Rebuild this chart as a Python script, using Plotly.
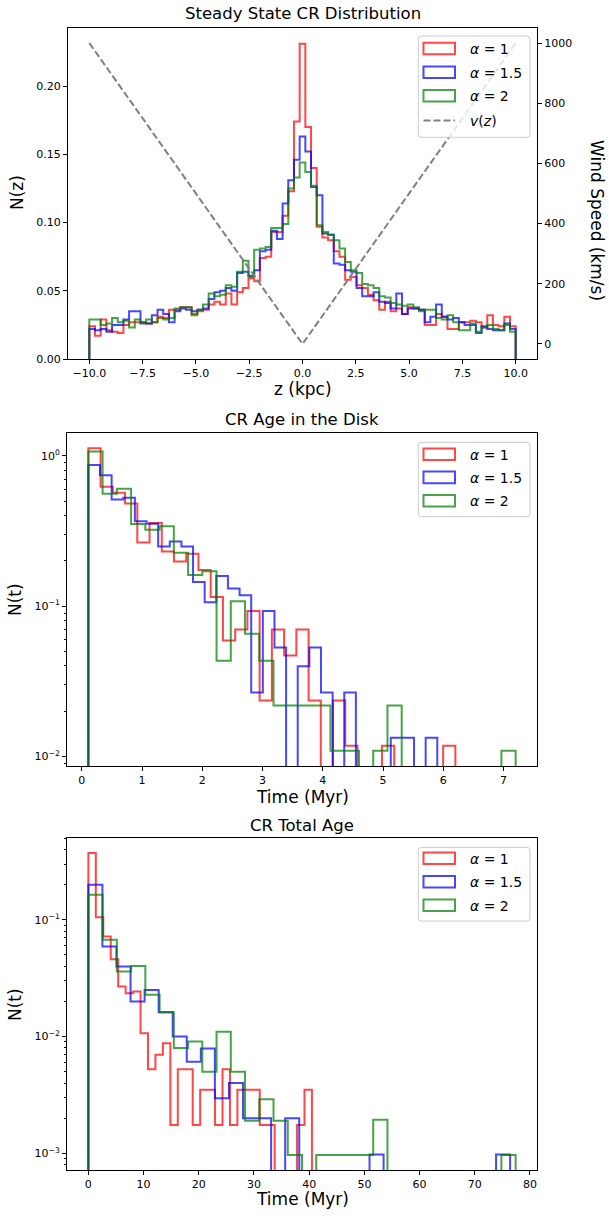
import numpy as np
import plotly.graph_objects as go

W, H = 609, 1218

# ---------------- DATA ----------------
alpha_labels = ["1", "1.5", "2"]

# Panel 1: steady state CR distribution N(z), 75 bins over [-10, 10]
z_lo, z_hi = -10.0, 10.0
nz_red = [
    0.024, 0.017, 0.029, 0.021, 0.020, 0.019, 0.025, 0.027, 0.027, 0.027,
    0.026, 0.027, 0.031, 0.030, 0.036, 0.036, 0.038, 0.038, 0.033, 0.035,
    0.036, 0.040, 0.042, 0.040, 0.048, 0.040, 0.049, 0.052, 0.059, 0.057,
    0.074, 0.075, 0.093, 0.093, 0.105, 0.123, 0.174, 0.231, 0.170, 0.140,
    0.097, 0.089, 0.087, 0.079, 0.075, 0.058, 0.060, 0.054, 0.052, 0.047,
    0.043, 0.036, 0.042, 0.035, 0.037, 0.033, 0.038, 0.037, 0.036, 0.025,
    0.025, 0.033, 0.031, 0.022, 0.022, 0.027, 0.027, 0.028, 0.027, 0.023,
    0.032, 0.025, 0.024, 0.031, 0.024]
nz_blue = [
    0.022, 0.021, 0.022, 0.020, 0.025, 0.025, 0.029, 0.035, 0.035, 0.026,
    0.026, 0.032, 0.036, 0.033, 0.027, 0.035, 0.037, 0.036, 0.035, 0.036,
    0.037, 0.044, 0.049, 0.050, 0.052, 0.050, 0.063, 0.064, 0.061, 0.065,
    0.079, 0.080, 0.094, 0.088, 0.114, 0.131, 0.146, 0.163, 0.152, 0.126,
    0.120, 0.092, 0.091, 0.070, 0.069, 0.065, 0.064, 0.052, 0.046, 0.046,
    0.049, 0.042, 0.041, 0.037, 0.048, 0.033, 0.037, 0.037, 0.036, 0.027,
    0.031, 0.040, 0.031, 0.029, 0.030, 0.027, 0.025, 0.025, 0.019, 0.024,
    0.022, 0.021, 0.021, 0.026, 0.022]
nz_green = [
    0.029, 0.029, 0.025, 0.026, 0.030, 0.027, 0.028, 0.023, 0.029, 0.027,
    0.029, 0.027, 0.030, 0.029, 0.030, 0.037, 0.038, 0.038, 0.032, 0.036,
    0.040, 0.048, 0.046, 0.047, 0.054, 0.053, 0.064, 0.072, 0.060, 0.080,
    0.081, 0.082, 0.096, 0.096, 0.099, 0.125, 0.133, 0.144, 0.137, 0.127,
    0.098, 0.093, 0.091, 0.087, 0.081, 0.071, 0.065, 0.063, 0.055, 0.054,
    0.052, 0.046, 0.045, 0.041, 0.040, 0.039, 0.040, 0.038, 0.035, 0.036,
    0.036, 0.030, 0.029, 0.032, 0.027, 0.021, 0.021, 0.026, 0.020, 0.023,
    0.025, 0.022, 0.021, 0.025, 0.020]

wind_z = [-10.0, 0.0, 10.0]
wind_v = [1000.0, 0.0, 1000.0]

# Panel 2: CR age in the disk, 30 bins per series over its own range
disk_start = 0.11
disk_end = {"red": 6.20, "blue": 5.90, "green": 7.20}
disk_red = [1.125, 0.623, 0.568, 0.482, 0.265, 0.357, 0.231, 0.198, 0.223, 0.174,
            0.115, 0.059, 0.070, 0.093, 0.0236, 0.070, 0.047, 0.070, 0.0236, 0,
            0.0236, 0.0118, 0, 0, 0.0118, 0, 0, 0, 0, 0.0118]
disk_blue = [0.870, 0.742, 0.512, 0.526, 0.367, 0.354, 0.249, 0.269, 0.249, 0.145,
             0.106, 0.159, 0.131, 0.118, 0.0266, 0.093, 0.053, 0, 0.0399, 0.053,
             0.0266, 0, 0.0266, 0, 0, 0, 0.0133, 0.0133, 0, 0.0133]
disk_green = [1.069, 0.560, 0.604, 0.352, 0.322, 0.340, 0.227, 0.161, 0.171, 0.0434,
              0.108, 0.0655, 0.0434, 0.0218, 0.0218, 0.0218, 0.0218, 0.0109, 0.0109, 0,
              0.0109, 0.0218, 0, 0, 0, 0, 0, 0, 0, 0.0109]

# Panel 3: CR total age, 30 bins per series over its own range
total_start = 0.0
total_end = {"red": 40.5, "blue": 76.4, "green": 77.4}
total_red = [0.373, 0.105, 0.072, 0.046, 0.0268, 0.0235, 0.0243, 0.0107, 0.00526, 0.0070,
             0.00877, 0.00175, 0.00526, 0.00526, 0.00175, 0.0035, 0.0035, 0.00175, 0.00526, 0.00175,
             0.0035, 0.0035, 0.0035, 0.00175, 0.00175, 0, 0, 0, 0.00175, 0.0035]
total_blue = [0.1995, 0.059, 0.0398, 0.0200, 0.0251, 0.0162, 0.0100, 0.0061, 0.0079, 0.00296,
              0.0040, 0.0020, 0.0020, 0, 0.0020, 0, 0, 0, 0, 0,
              0.00098, 0, 0, 0, 0, 0, 0, 0, 0, 0.00098]
total_green = [0.164, 0.0674, 0.0361, 0.0403, 0.0228, 0.0162, 0.0080, 0.0091, 0.0050, 0.0110,
               0.0050, 0.0019, 0.0029, 0.0019, 0.00097, 0, 0.00097, 0.00097, 0.00097, 0.00097,
               0.00194, 0, 0, 0, 0, 0, 0, 0, 0, 0.00097]

# ---------------- STYLE ----------------
COL = {"red": "rgba(255,0,0,0.72)", "blue": "rgba(0,0,255,0.72)", "green": "rgba(0,128,0,0.72)"}
FONT = "DejaVu Sans"
LW = 2


def px(x):
    return x / W


def py(y):
    return 1 - y / H


def step_xy(lo, hi, heights, base):
    edges = np.linspace(lo, hi, len(heights) + 1)
    xs, ys = [edges[0]], [base]
    for i, h in enumerate(heights):
        hv = h if h > 0 else base
        xs += [edges[i], edges[i + 1]]
        ys += [hv, hv]
    xs.append(edges[-1])
    ys.append(base)
    return xs, ys


fig = go.Figure()

# Panel 1 traces
for key, vals in [("red", nz_red), ("blue", nz_blue), ("green", nz_green)]:
    xs, ys = step_xy(z_lo, z_hi, vals, 0.0)
    fig.add_trace(go.Scatter(x=xs, y=ys, mode="lines", line=dict(color=COL[key], width=LW),
                             xaxis="x", yaxis="y", hoverinfo="skip"))
fig.add_trace(go.Scatter(x=wind_z, y=wind_v, mode="lines",
                         line=dict(color="rgb(128,128,128)", width=2, dash="7px,3px"),
                         xaxis="x", yaxis="y2", hoverinfo="skip"))

# Panel 2 traces
LOGBASE = 1e-9
for key, vals in [("red", disk_red), ("blue", disk_blue), ("green", disk_green)]:
    xs, ys = step_xy(disk_start, disk_end[key], vals, LOGBASE)
    fig.add_trace(go.Scatter(x=xs, y=ys, mode="lines", line=dict(color=COL[key], width=LW),
                             xaxis="x2", yaxis="y3", hoverinfo="skip"))

# Panel 3 traces
for key, vals in [("red", total_red), ("blue", total_blue), ("green", total_green)]:
    xs, ys = step_xy(total_start, total_end[key], vals, LOGBASE)
    fig.add_trace(go.Scatter(x=xs, y=ys, mode="lines", line=dict(color=COL[key], width=LW),
                             xaxis="x3", yaxis="y4", hoverinfo="skip"))

# ranges (matplotlib-like 5% margins)
top_ymax = 1.05 * max(max(nz_red), max(nz_blue), max(nz_green))


def lin_range(lo, hi):
    s = hi - lo
    return [lo - 0.05 * s, hi + 0.05 * s]


def log_range(arrs):
    pos = [v for a in arrs for v in a if v > 0]
    a, b = np.log10(min(pos)), np.log10(max(pos))
    s = b - a
    return [a - 0.05 * s, b + 0.05 * s]


disk_xr = lin_range(disk_start, max(disk_end.values()))
total_xr = lin_range(total_start, max(total_end.values()))
disk_yr = log_range([disk_red, disk_blue, disk_green])
total_yr = log_range([total_red, total_blue, total_green])

tickfont = dict(family=FONT, size=11, color="black")
common = dict(showline=True, linecolor="black", linewidth=1, ticks="outside", ticklen=4,
              tickwidth=1, tickcolor="black", showgrid=False, zeroline=False,
              tickfont=tickfont, automargin=False)

minor_vals = [m * 10.0 ** e for e in range(-5, 1) for m in range(2, 10)]
minor = dict(tickmode="array", tickvals=minor_vals, ticks="outside", ticklen=2,
             tickwidth=0.8, tickcolor="black", showgrid=False)

sup = lambda e: "10<sup>" + ("\u2212" if e < 0 else "") + str(abs(e)) + "</sup>"

fig.update_layout(
    width=W, height=H, margin=dict(l=0, r=0, t=0, b=0),
    paper_bgcolor="white", plot_bgcolor="white", showlegend=False,
    font=dict(family=FONT, color="black"),
    xaxis=dict(domain=[px(68), px(537)], anchor="y", range=[-11, 11], tick0=-10, dtick=2.5,
               tickformat=".1f", mirror=True, **common),
    yaxis=dict(domain=[py(359), py(28)], anchor="x", range=[0, top_ymax], tick0=0, dtick=0.05,
               tickformat=".2f", mirror=True, **common),
    yaxis2=dict(overlaying="y", side="right", anchor="x", range=[-50, 1050], tick0=0, dtick=200,
                **common),
    xaxis2=dict(domain=[px(67), px(537)], anchor="y3", range=disk_xr, tick0=0, dtick=1,
                mirror=True, **common),
    yaxis3=dict(domain=[py(766), py(433)], anchor="x2", type="log", range=disk_yr,
                tickmode="array", tickvals=[1e-2, 1e-1, 1], ticktext=[sup(-2), sup(-1), sup(0)],
                minor=minor, mirror=True, **common),
    xaxis3=dict(domain=[px(67), px(537)], anchor="y4", range=total_xr, tick0=0, dtick=10,
                mirror=True, **common),
    yaxis4=dict(domain=[py(1170), py(838)], anchor="x3", type="log", range=total_yr,
                tickmode="array", tickvals=[1e-3, 1e-2, 1e-1], ticktext=[sup(-3), sup(-2), sup(-1)],
                minor=minor, mirror=True, **common),
)

annotations = []


def text(s, x, y, size, angle=0, xanchor="center"):
    annotations.append(dict(text=s, x=px(x), y=py(y), xref="paper", yref="paper",
                            showarrow=False, xanchor=xanchor, yanchor="middle",
                            textangle=angle, font=dict(family=FONT, size=size, color="black")))


TITLE, LABEL = 16.5, 17
text("Steady State CR Distribution", 302.5, 14, TITLE)
text("z (kpc)", 302.5, 389, LABEL)
text("N(z)", 17, 193, LABEL, angle=-90)
text("Wind Speed (km/s)", 597, 220, LABEL, angle=90)
text("CR Age in the Disk", 302, 419, TITLE)
text("Time (Myr)", 302, 797, LABEL)
text("N(t)", 15, 600, LABEL, angle=-90)
text("CR Total Age", 302, 825, TITLE)
text("Time (Myr)", 302, 1199, LABEL)
text("N(t)", 15, 1005, LABEL, angle=-90)

shapes = []


def legend(box, rows):
    x0, y0, x1, y1 = box
    r = 3
    pts = lambda x, y: f"{px(x):.6f},{py(y):.6f}"
    path = (f"M{pts(x0 + r, y0)} L{pts(x1 - r, y0)} Q{pts(x1, y0)} {pts(x1, y0 + r)} "
            f"L{pts(x1, y1 - r)} Q{pts(x1, y1)} {pts(x1 - r, y1)} L{pts(x0 + r, y1)} "
            f"Q{pts(x0, y1)} {pts(x0, y1 - r)} L{pts(x0, y0 + r)} Q{pts(x0, y0)} {pts(x0 + r, y0)} Z")
    shapes.append(dict(type="path", path=path, xref="paper", yref="paper", layer="above",
                       fillcolor="rgba(255,255,255,0.8)", line=dict(color="#cccccc", width=1)))
    for kind, color, label, yc in rows:
        if kind == "patch":
            shapes.append(dict(type="rect", xref="paper", yref="paper", layer="above",
                               x0=px(423.5), x1=px(455), y0=py(yc + 5.8), y1=py(yc - 5.8),
                               line=dict(color=color, width=LW), fillcolor="rgba(0,0,0,0)"))
        else:
            shapes.append(dict(type="line", xref="paper", yref="paper", layer="above",
                               x0=px(423.5), x1=px(455), y0=py(yc), y1=py(yc),
                               line=dict(color=color, width=2, dash="7px,3px")))
        text(label, 468, yc + 0.5, 14, xanchor="left")


alpha_rows = lambda ys: [("patch", COL[k], "<i>α</i> = " + a, y)
                         for k, a, y in zip(["red", "blue", "green"], alpha_labels, ys)]

legend((418.3, 36, 530, 137.3),
       alpha_rows([48.5, 72.2, 95.7]) + [("line", "rgb(128,128,128)", "<i>v</i>(<i>z</i>)", 120.5)])
legend((418.3, 442.3, 530, 516.7), alpha_rows([454.2, 477.4, 500.8]))
legend((418.3, 847.3, 530, 921), alpha_rows([858.3, 881.7, 905.2]))

fig.update_layout(annotations=annotations, shapes=shapes)
fig.write_html("out.html")
